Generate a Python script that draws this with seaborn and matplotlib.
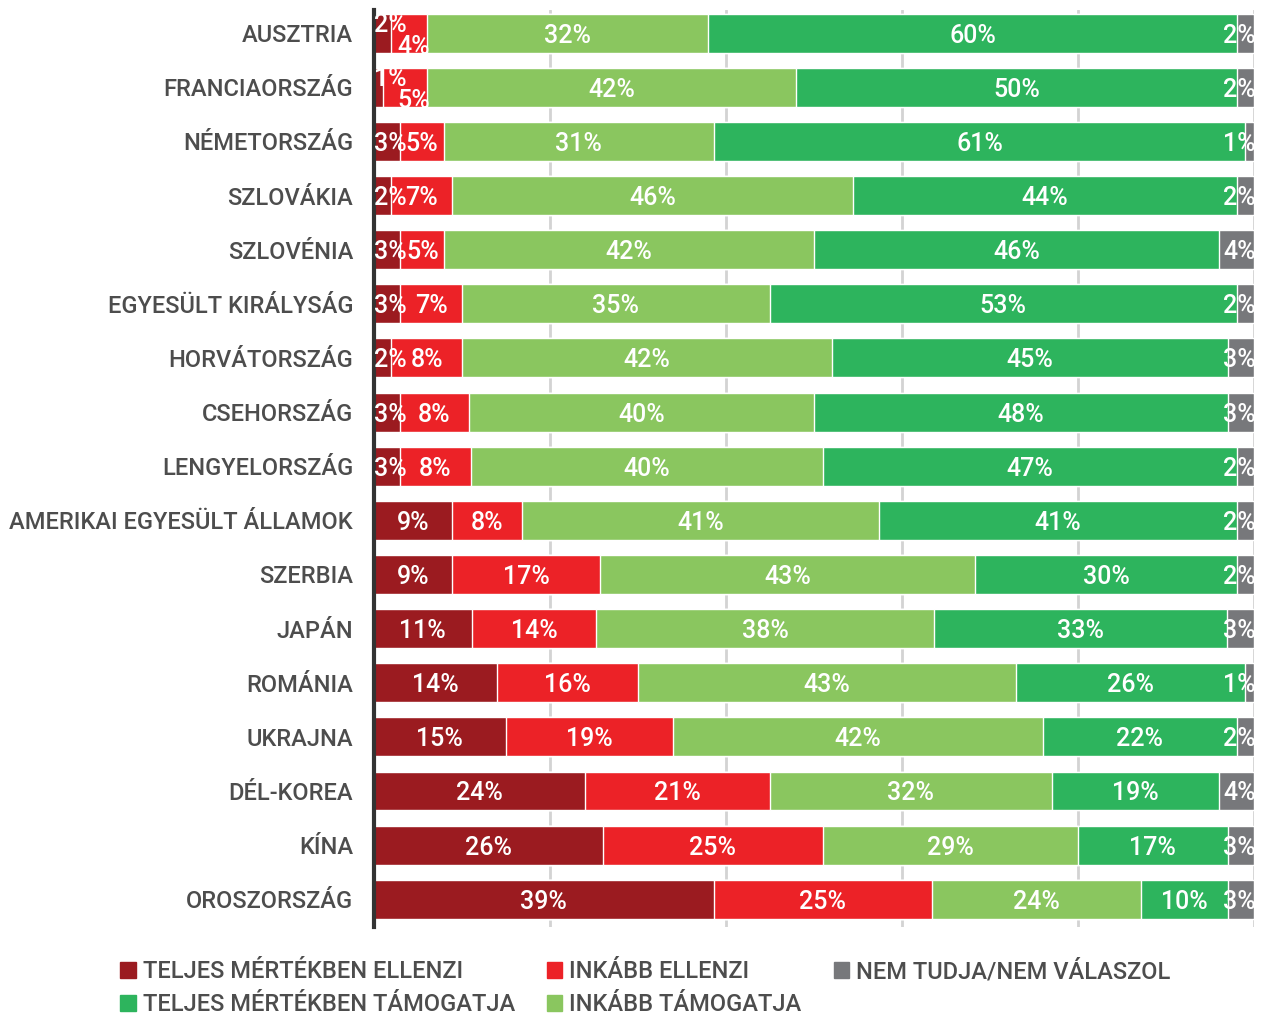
import pandas as pd
import matplotlib.pyplot as plt
import seaborn as sns
from matplotlib.patches import Patch

# data
countries = ['AUSZTRIA', 'FRANCIAORSZÁG', 'NÉMETORSZÁG', 'SZLOVÁKIA', 'SZLOVÉNIA',
             'EGYESÜLT KIRÁLYSÁG', 'HORVÁTORSZÁG', 'CSEHORSZÁG', 'LENGYELORSZÁG',
             'AMERIKAI EGYESÜLT ÁLLAMOK', 'SZERBIA', 'JAPÁN', 'ROMÁNIA', 'UKRAJNA',
             'DÉL-KOREA', 'KÍNA', 'OROSZORSZÁG']
teljes_ellenzi = [2, 1, 3, 2, 3, 3, 2, 3, 3, 9, 9, 11, 14, 15, 24, 26, 39]
inkabb_ellenzi = [4, 5, 5, 7, 5, 7, 8, 8, 8, 8, 17, 14, 16, 19, 21, 25, 25]
inkabb_tamogatja = [32, 42, 31, 46, 42, 35, 42, 40, 40, 41, 43, 38, 43, 42, 32, 29, 24]
teljes_tamogatja = [60, 50, 61, 44, 46, 53, 45, 48, 47, 41, 30, 33, 26, 22, 19, 17, 10]
nem_tudja = [2, 2, 1, 2, 4, 2, 3, 3, 2, 2, 2, 3, 1, 2, 4, 3, 3]

series = ['TELJES MÉRTÉKBEN ELLENZI', 'INKÁBB ELLENZI', 'INKÁBB TÁMOGATJA',
          'TELJES MÉRTÉKBEN TÁMOGATJA', 'NEM TUDJA/NEM VÁLASZOL']
colors = ['#9b1b20', '#ec2227', '#8ac65f', '#2db45d', '#77787b']

df = pd.DataFrame({s: v for s, v in zip(series, [teljes_ellenzi, inkabb_ellenzi,
                                                  inkabb_tamogatja, teljes_tamogatja, nem_tudja])},
                  index=countries)
# stretch every row to 100% like the original chart
shares = df.div(df.sum(axis=1), axis=0) * 100
cum = shares.cumsum(axis=1)

sns.set_style('white')
plt.rcParams['font.family'] = ['Roboto', 'DejaVu Sans']

fig = plt.figure(figsize=(12.63, 10.18), dpi=100)
ax = fig.add_axes([0.296, 0.089, 0.697, 0.901])

# stacked bars: draw cumulative totals from the right-most segment back
for s, c in reversed(list(zip(series, colors))):
    sns.barplot(x=cum[s].values, y=countries, color=c, orient='h',
                width=0.72, ax=ax, saturation=1, zorder=2)

ax.set_xlim(0, 100)
ax.set_ylim(16.52, -0.425)
ax.set_xticks([20, 40, 60, 80, 100])
ax.set_xticklabels([])
ax.xaxis.grid(True, color='#d3d3d3', linewidth=2, zorder=0)
ax.set_axisbelow(True)
for side in ['top', 'right', 'bottom']:
    ax.spines[side].set_visible(False)
ax.spines['left'].set_color('#333333')
ax.spines['left'].set_linewidth(3)
ax.tick_params(axis='y', length=0, pad=15, labelsize=17, labelcolor='#4d4d4d')
for lbl in ax.get_yticklabels():
    lbl.set_fontweight('medium')
ax.set_xlabel('')
ax.set_ylabel('')

# labels in the segments
txt = dict(color='white', fontsize=18, fontweight='medium', zorder=5)
for i, country in enumerate(countries):
    starts = [0] + list(cum.loc[country].values[:-1])
    for j, s in enumerate(series):
        val = df.loc[country, s]
        w = shares.loc[country, s]
        x0 = starts[j]
        lab = f'{val}%'
        if j == 4:
            ax.text(100.2, i, lab, ha='right', va='center_baseline', **txt)
        elif j == 0 and val <= 2 and df.loc[country, series[1]] <= 5:
            ax.text(0, i - 0.2, lab, ha='left', va='center_baseline', **txt)
        elif j == 1 and df.loc[country, series[0]] <= 2 and val <= 5:
            ax.text(x0 + w + 0.4, i + 0.2, lab, ha='right', va='center_baseline', **txt)
        elif j == 0 and val <= 3:
            ax.text(0, i, lab, ha='left', va='center_baseline', **txt)
        else:
            ax.text(x0 + w / 2, i, lab, ha='center', va='center_baseline', **txt)

handles = [Patch(color=c) for c in colors]
order = [0, 3, 1, 2, 4]
fig.legend([handles[k] for k in order], [series[k] for k in order],
           loc='upper left', bbox_to_anchor=(0.0785, 0.078), ncol=3, frameon=False,
           handlelength=0.65, handleheight=0.65, handletextpad=0.3, columnspacing=1.35,
           labelspacing=0.42, prop={'family': 'Roboto', 'weight': 'medium', 'size': 17},
           labelcolor='#4d4d4d')

plt.savefig('out.png', dpi=100)
